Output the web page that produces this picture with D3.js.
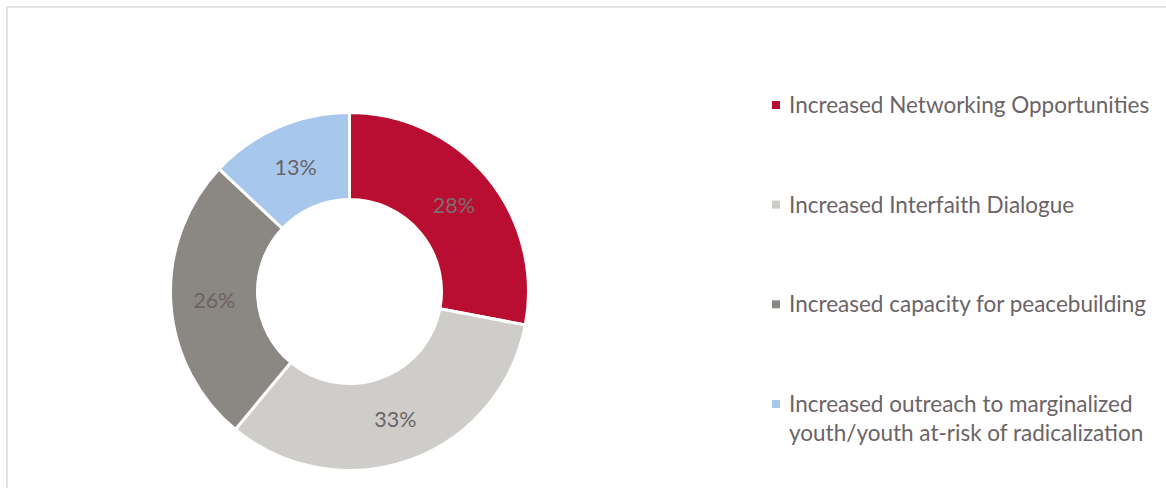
<!DOCTYPE html>
<html>
<head>
<meta charset="utf-8">
<script src="https://cdn.jsdelivr.net/npm/d3@7"></script>
<style>
	body { margin: 0; background: #fff; }
	svg { display: block; font-family: Lato, "Open Sans", sans-serif; }
</style>
</head>
<body>
<div id="chart"></div>
<script>

// data
var categories = [
	"Increased Networking Opportunities",
	"Increased Interfaith Dialogue",
	"Increased capacity for peacebuilding",
	"Increased outreach to marginalized youth/youth at-risk of radicalization"
];
var shares = [28, 33, 26, 13];
var labels = ["28%", "33%", "26%", "13%"];
// legend text broken into lines like the original
var legendLines = [
	["Increased Networking Opportunities"],
	["Increased Interfaith Dialogue"],
	["Increased capacity for peacebuilding"],
	["Increased outreach to marginalized", "youth/youth at-risk of radicalization"]
];
var colorList = ["#b90e31", "#cfcdc9", "#8b8782", "#a7c7ec"];

var width = 1166,
	height = 488;

var svg = d3.select("#chart").append("svg")
	.attr("width", width)
	.attr("height", height);

// chart frame, only top and left edges show in the window
svg.append("rect")
	.attr("x", 7)
	.attr("y", 7)
	.attr("width", width + 20)
	.attr("height", height + 20)
	.attr("fill", "none")
	.attr("stroke", "#e4e4e4")
	.attr("stroke-width", 2);

var textColor = "#6b6365";

var color = d3.scaleOrdinal()
	.domain(categories)
	.range(colorList);

var rows = categories.map(function(c, i){
	return { name: c, value: shares[i], label: labels[i], lines: legendLines[i] };
});

var pie = d3.pie()
	.sort(null)
	.value(function(d){ return d.value; });

var outerR = 179,
	innerR = 92;

var arc = d3.arc()
	.innerRadius(innerR)
	.outerRadius(outerR);

var donut = svg.append("g")
	.attr("transform", "translate(349.5,291.5)");

donut.selectAll("path")
	.data(pie(rows))
	.enter()
	.append("path")
	.attr("d", arc)
	.attr("fill", function(d){ return color(d.data.name); })
	.attr("stroke", "#fff")
	.attr("stroke-width", 3);

donut.selectAll("text")
	.data(pie(rows))
	.enter()
	.append("text")
	.attr("transform", function(d){ return "translate(" + arc.centroid(d) + ")"; })
	.attr("text-anchor", "middle")
	.attr("dy", "0.36em")
	.attr("font-size", 21.5)
	.attr("fill", function(d, i){ return i == 0 ? "#7a6f70" : textColor; })
	.text(function(d){ return d.data.label; });

// legend
var legendY = d3.scalePoint()
	.domain(categories)
	.range([113, 412]);

var legend = svg.append("g")
	.attr("class", "legend");

var item = legend.selectAll("g")
	.data(rows)
	.enter()
	.append("g")
	.attr("transform", function(d){ return "translate(772," + legendY(d.name) + ")"; });

item.append("rect")
	.attr("x", 0)
	.attr("y", -12)
	.attr("width", 8)
	.attr("height", 8)
	.attr("fill", function(d){ return color(d.name); });

item.append("text")
	.attr("x", 17)
	.attr("y", 0)
	.attr("font-size", 22.5)
	.attr("fill", textColor)
	.selectAll("tspan")
	.data(function(d){ return d.lines; })
	.enter()
	.append("tspan")
	.attr("x", 17)
	.attr("dy", function(d, i){ return i == 0 ? 0 : 29; })
	.text(function(d){ return d; });

</script>
</body>
</html>
